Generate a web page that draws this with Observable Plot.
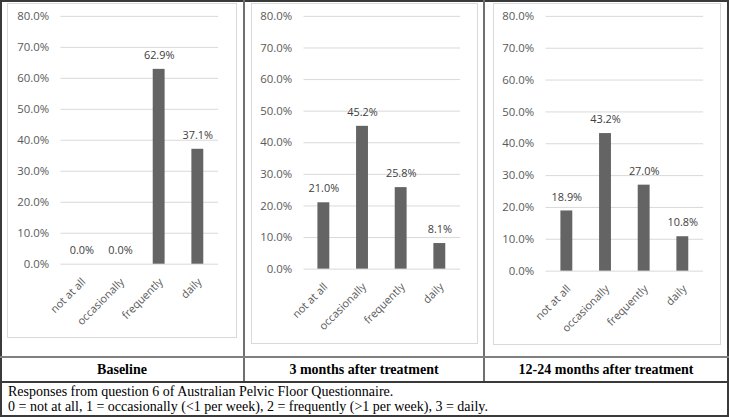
<!DOCTYPE html>
<html><head><meta charset="utf-8">
<script src="https://cdn.jsdelivr.net/npm/d3@7"></script>
<script src="https://cdn.jsdelivr.net/npm/@observablehq/plot@0.6"></script>
<style>
body{margin:0;background:#fff;}
#wrap{position:relative;width:729px;height:417px;overflow:hidden;font-family:"Liberation Serif","Times New Roman",serif;background:#fff;}
.ln{position:absolute;}
.chartbox{position:absolute;border:1px solid #d9d9d9;box-sizing:border-box;}
.chartbox svg{position:absolute;left:-1px;top:-1px;}
.lab{position:absolute;top:357px;height:25px;line-height:25px;text-align:center;font-weight:bold;font-size:14px;color:#000;}
.cap{position:absolute;left:8px;top:384px;font-size:14px;line-height:15px;color:#000;white-space:nowrap;}
</style></head><body><div id="wrap"></div>
<script>
const categories = ["not at all", "occasionally", "frequently", "daily"];
const baselineValues = [0.0, 0.0, 62.9, 37.1];
const threeMonthValues = [21.0, 45.2, 25.8, 8.1];
const longTermValues = [18.9, 43.2, 27.0, 10.8];
const yTicks = [0, 10, 20, 30, 40, 50, 60, 70, 80];
const panelTitles = ["Baseline", "3 months after treatment", "12-24 months after treatment"];
const captionLines = [
  "Responses from question 6 of Australian Pelvic Floor Questionnaire.",
  "0 = not at all, 1 = occasionally (<1 per week), 2 = frequently (>1 per week), 3 = daily."
];

const wrap = document.getElementById("wrap");

function line(x, y, w, h, color) {
  const d = document.createElement("div");
  d.className = "ln";
  Object.assign(d.style, {left: x + "px", top: y + "px", width: w + "px", height: h + "px", background: color});
  wrap.appendChild(d);
}

function makeChart(values, w, h, m) {
  const data = categories.map((c, i) => ({category: c, value: values[i]}));
  return Plot.plot({
    width: w, height: h,
    marginLeft: m.l, marginRight: m.r, marginTop: m.t, marginBottom: m.b,
    style: {fontFamily: "'Open Sans', sans-serif", fontSize: "11px", color: "#595959", background: "transparent", overflow: "visible"},
    x: {type: "band", domain: categories, paddingInner: 0.69, paddingOuter: 0.345, label: null},
    y: {domain: [0, 80], label: null},
    marks: [
      Plot.ruleY(yTicks, {stroke: "#d9d9d9", strokeWidth: 1}),
      Plot.barY(data, {x: "category", y: "value", fill: "#646464"}),
      Plot.text(data, {x: "category", y: "value", text: d => d.value.toFixed(1) + "%", dy: -14, fill: "#404040", fontSize: 11}),
      Plot.axisY({ticks: yTicks, tickSize: 0, tickPadding: 12, tickFormat: d => d.toFixed(1) + "%", label: null, fill: "#595959", fontSize: 11.5}),
      Plot.axisX({tickSize: 0, tickRotate: -45, tickPadding: 16, dx: 2, label: null, fill: "#595959", fontSize: 11})
    ]
  });
}

const panels = [
  {values: baselineValues, box: [7, 3, 230, 335], m: {l: 54, r: 17, t: 13, b: 72}},
  {values: threeMonthValues, box: [251, 3, 227, 341], m: {l: 53, r: 16, t: 13, b: 73}},
  {values: longTermValues, box: [493, 3, 228, 342], m: {l: 53, r: 16, t: 13, b: 72}}
];

panels.forEach(p => {
  const [x, y, w, h] = p.box;
  const box = document.createElement("div");
  box.className = "chartbox";
  Object.assign(box.style, {left: x + "px", top: y + "px", width: w + "px", height: h + "px"});
  box.appendChild(makeChart(p.values, w, h, p.m));
  wrap.appendChild(box);
});

const cols = [[0, 244], [244, 484], [484, 728]];
panelTitles.forEach((t, i) => {
  const d = document.createElement("div");
  d.className = "lab";
  d.textContent = t;
  Object.assign(d.style, {left: cols[i][0] + "px", width: (cols[i][1] - cols[i][0]) + "px"});
  wrap.appendChild(d);
});

const cap = document.createElement("div");
cap.className = "cap";
cap.innerHTML = captionLines.map(s => s.replace(/&/g, "&amp;").replace(/</g, "&lt;").replace(/>/g, "&gt;")).join("<br>");
wrap.appendChild(cap);

// table lines
line(0, 0, 729, 2, "#3a3a3a");      // top
line(0, 0, 2, 417, "#3a3a3a");      // left
line(727, 0, 2, 417, "#3a3a3a");    // right
line(0, 415, 729, 2, "#3a3a3a");    // bottom
line(243, 0, 2, 382, "#707070");    // col sep 1
line(483, 0, 2, 382, "#707070");    // col sep 2
line(0, 356, 729, 1.5, "#808080");  // chart/label sep
line(0, 381, 729, 2, "#3a3a3a");    // label/caption sep
</script></body></html>
